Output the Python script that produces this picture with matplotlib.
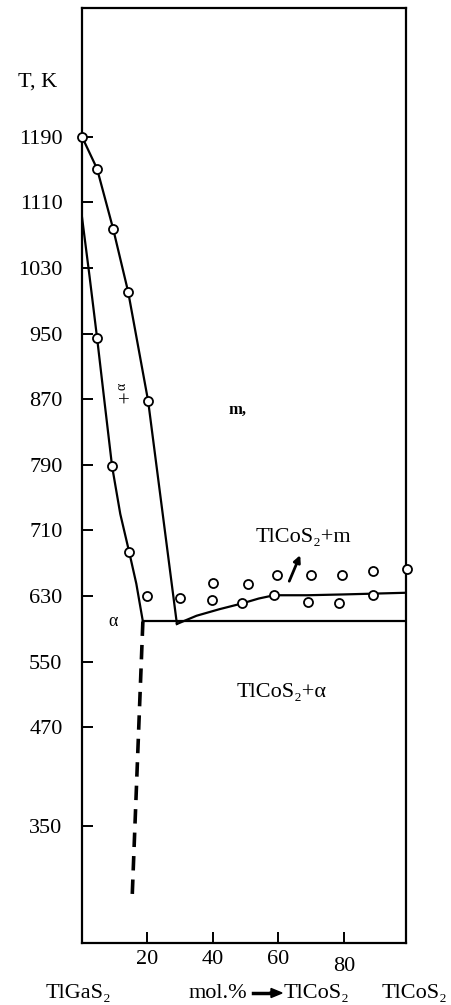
import matplotlib
matplotlib.use("Agg")
import matplotlib.pyplot as plt
import matplotlib.patches as mpatches
import matplotlib.transforms as mtransforms

plt.rcParams['font.family'] = ['Liberation Serif', 'DejaVu Serif']

# liquidus (upper curve)
liq_x = [0, 4.6, 9.5, 14.1, 20.2, 29.0]
liq_T = [1190, 1151, 1078, 1001, 868, 596]
liq_pts_x = [0, 4.6, 9.5, 14.1, 20.2]
liq_pts_T = [1190, 1151, 1078, 1001, 868]

# solidus (lower curve)
sol_x = [0, 2.3, 4.6, 6.9, 9.2, 11.7, 14.4, 16.6, 18.6]
sol_T = [1092, 1020, 945, 866, 788, 730, 684, 645, 599]
sol_pts_x = [4.6, 9.2, 14.4, 19.9]
sol_pts_T = [945, 788, 684, 630]

# eutectic line and the TlCoS2 side curve
eut_x = [18.6, 98.7]
eut_T = [599, 599]
right_x = [29.0, 35.0, 42.0, 48.9, 54.0, 58.7, 68.9, 80.0, 98.7]
right_T = [596, 606, 614, 621, 627, 631, 631, 632, 634]

# dashed line under the eutectic point
dash_x = [18.6, 15.3]
dash_T = [599, 260]

# experimental points in the two-phase region
pts_x = [29.9, 40.0, 39.7, 50.7, 48.9, 59.6, 58.7, 70.0, 69.0, 79.4, 78.5, 88.9, 88.9, 99.3]
pts_T = [628, 646, 625, 645, 621, 656, 631, 656, 623, 656, 621, 660, 631, 663]

yticks = [1190, 1110, 1030, 950, 870, 790, 710, 630, 550, 470, 350]
xticks = [20, 40, 60, 80]

W, H = 452, 1005
fs = 16
fig = plt.figure(figsize=(W / 100, H / 100), dpi=100)
ax = fig.add_axes([82 / W, 1 - 943 / H, 324 / W, 935 / H])
ax.set_xlim(0, 99)
ax.set_ylim(207, 1347)

lw = 1.6
ax.plot(liq_x, liq_T, color='black', lw=lw)
ax.plot(sol_x, sol_T, color='black', lw=lw)
ax.plot(eut_x, eut_T, color='black', lw=lw)
ax.plot(right_x, right_T, color='black', lw=lw)
ax.plot(dash_x, dash_T, color='black', lw=2.6, dashes=(4, 2.5))

mk = dict(ls='none', marker='o', ms=6.5, mfc='white', mec='black', mew=1.3, zorder=5,
          clip_on=False)
ax.plot(liq_pts_x, liq_pts_T, **mk)
ax.plot(sol_pts_x, sol_pts_T, **mk)
ax.plot(pts_x, pts_T, **mk)

for s in ax.spines.values():
    s.set_linewidth(1.6)

ax.set_yticks(yticks)
ax.set_xticks(xticks)
ax.tick_params(axis='both', direction='in', length=8, width=1.4, labelsize=fs,
               colors='black')
ax.tick_params(axis='y', pad=14)
ax.tick_params(axis='x', pad=5)
# the "80" label sits a bit lower in the original
lab80 = ax.get_xticklabels()[3]
lab80.set_transform(lab80.get_transform() +
                    mtransforms.ScaledTranslation(0, -7 / 100, fig.dpi_scale_trans))

# region labels
ax.text(12.8, 866, '+', fontsize=15, ha='center', va='center')
ax.text(12.3, 886, 'α', fontsize=10, ha='center', va='center', rotation=90)
ax.text(47.5, 857, 'm,', fontsize=12, ha='center', va='center', fontweight='bold')
ax.text(9.5, 599, 'α', fontsize=13, ha='center', va='center')
ax.text(67.5, 702, 'TlCoS₂+m', fontsize=fs, ha='center', va='center')
ax.annotate('', xy=(67.0, 683), xytext=(63.0, 645),
            arrowprops=dict(arrowstyle='-|>', color='black', lw=2, mutation_scale=10))
ax.text(61, 513, 'TlCoS₂+α', fontsize=fs, ha='center', va='center')

# figure-level texts
def ft(px, py, s, **kw):
    fig.text(px / W, 1 - py / H, s, **kw)

ft(38, 82, 'T, K', fontsize=fs, ha='center', va='center')
ft(78, 993, 'TlGaS₂', fontsize=fs, ha='center', va='center')
ft(218, 993, 'mol.%', fontsize=fs, ha='center', va='center')
ft(316, 993, 'TlCoS₂', fontsize=fs, ha='center', va='center')
ft(414, 993, 'TlCoS₂', fontsize=fs, ha='center', va='center')
fig.add_artist(plt.Line2D([253 / W, 274 / W], [1 - 993 / H, 1 - 993 / H],
                          color='black', lw=2.5))
fig.patches.append(mpatches.FancyArrow(270 / W, 1 - 993 / H, 12 / W, 0,
                                       width=0.002, head_width=0.009,
                                       head_length=11 / W, color='black',
                                       transform=fig.transFigure,
                                       length_includes_head=True))

fig.savefig('out.png', dpi=100)
